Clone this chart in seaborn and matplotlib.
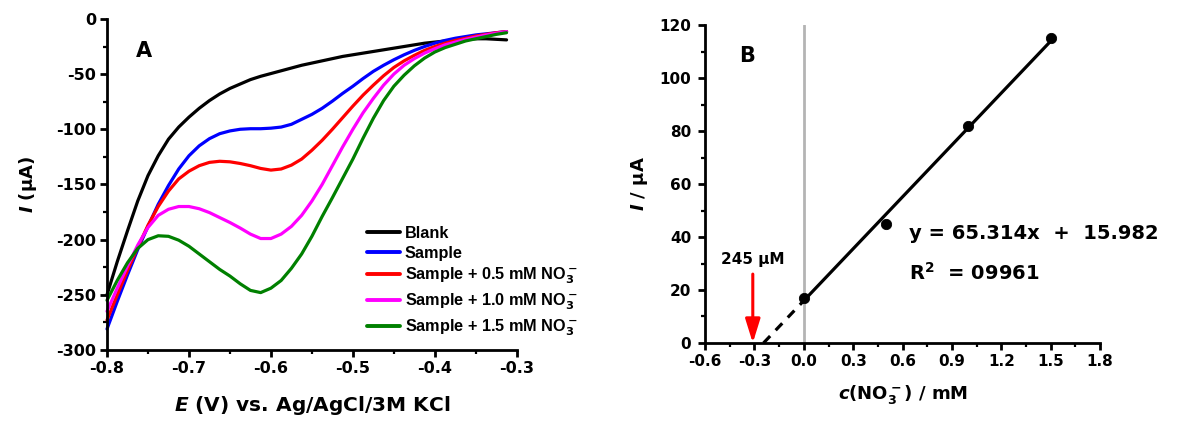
import numpy as np
import pandas as pd
import matplotlib
matplotlib.use('Agg')
import matplotlib.pyplot as plt
from matplotlib.ticker import MultipleLocator, FormatStrFormatter
import seaborn as sns

# ---------------- data ----------------
potential = [-0.8, -0.7875, -0.775, -0.7625, -0.75, -0.7375, -0.725, -0.7125,
             -0.7, -0.6875, -0.675, -0.6625, -0.65, -0.6375, -0.625, -0.6125,
             -0.6, -0.5875, -0.575, -0.5625, -0.55, -0.5375, -0.525, -0.5125,
             -0.5, -0.4875, -0.475, -0.4625, -0.45, -0.4375, -0.425, -0.4125,
             -0.4, -0.3875, -0.375, -0.3625, -0.35, -0.3375, -0.325, -0.3125]
blank = [-250, -220, -192, -165, -142, -124, -109, -98,
         -89, -81, -74, -68, -63, -59, -55, -52,
         -49.5, -47, -44.5, -42, -40, -38, -36, -34,
         -32.5, -31, -29.5, -28, -26.5, -25, -23.5, -22,
         -21, -20, -19, -18.5, -18, -18, -18.5, -19]
sample = [-281, -256, -232, -209, -188, -168, -151, -136,
          -124, -115, -108.5, -104, -101.5, -100, -99.5, -99.5,
          -99, -98, -95.5, -91, -86.5, -81, -74.5, -67.5,
          -61, -54, -47.5, -42, -37, -32.5, -28.5, -25,
          -22, -19.5, -17.5, -16, -14.5, -13.5, -12.5, -11.5]
sample_05 = [-273, -250, -228, -207, -187, -170, -156, -145,
             -138, -133, -130, -129, -129.5, -131, -133, -135.5,
             -137, -136, -132.5, -127, -119, -110, -100, -89.5,
             -79, -69, -60, -51.5, -44, -38, -33, -28.5,
             -25, -22, -19.5, -17.5, -15.5, -14, -12.5, -11.5]
sample_10 = [-265, -244, -224, -205, -189, -178, -172.5, -170,
             -170, -172, -175.5, -180, -184.5, -189.5, -195, -199,
             -199, -195, -188, -178, -165, -150, -133, -116,
             -100, -85, -72, -60, -50, -42, -36, -31,
             -27, -23.5, -21, -18.5, -16.5, -14.5, -13, -11.5]
sample_15 = [-255, -237, -221, -208, -200, -196.5, -197, -200.5,
             -206, -213, -220, -227, -233, -240, -246, -248,
             -244, -237, -226, -213, -197, -179, -162, -144.5,
             -127, -108, -90, -74, -61, -51, -42.5, -35.5,
             -30, -26, -23, -20, -18, -16, -14, -12.5]

trace_labels = ['Blank', 'Sample',
                r'Sample + 0.5 mM NO$_3^-$',
                r'Sample + 1.0 mM NO$_3^-$',
                r'Sample + 1.5 mM NO$_3^-$']
trace_colors = ['#000000', '#0000FF', '#FF0000', '#FF00FF', '#008000']

conc = [0.0, 0.5, 1.0, 1.5]
current = [17, 45, 82, 115]
fit_slope = 65.314
fit_intercept = 15.982
eq_text = 'y = 65.314x  +  15.982'
r2_text = r'R$^2$  = 09961'
lod_text = '245 μM'
lod_x = -0.31

# ---------------- style ----------------
sns.set_style('ticks')
plt.rcParams.update({
    'font.family': ['DejaVu Sans'],
    'font.weight': 'bold',
    'axes.labelweight': 'bold',
    'axes.unicode_minus': False,
    'mathtext.fontset': 'custom',
    'mathtext.rm': 'DejaVu Sans:bold',
    'mathtext.it': 'DejaVu Sans:italic:bold',
    'mathtext.bf': 'DejaVu Sans:bold',
    'mathtext.default': 'rm',
    'text.color': 'black',
    'axes.labelcolor': 'black',
    'axes.linewidth': 2,
    'xtick.major.width': 2, 'ytick.major.width': 2,
    'xtick.minor.width': 1.6, 'ytick.minor.width': 1.6,
    'xtick.major.size': 5, 'ytick.major.size': 5,
    'xtick.minor.size': 3, 'ytick.minor.size': 3,
    'xtick.color': 'black', 'ytick.color': 'black',
    'xtick.labelcolor': 'black', 'ytick.labelcolor': 'black',
    'axes.edgecolor': 'black',
})

fig = plt.figure(figsize=(11.81, 4.25), dpi=100)
axA = fig.add_axes([0.0906, 0.1765, 0.347, 0.779])
axB = fig.add_axes([0.597, 0.193, 0.3345, 0.748])

# ---------------- panel A ----------------
series = [blank, sample, sample_05, sample_10, sample_15]
frames = []
for lab, vals in zip(trace_labels, series):
    frames.append(pd.DataFrame({'E': potential, 'I': vals, 'trace': lab}))
dfA = pd.concat(frames, ignore_index=True)
sns.lineplot(data=dfA, x='E', y='I', hue='trace', hue_order=trace_labels,
             palette=dict(zip(trace_labels, trace_colors)), ax=axA,
             linewidth=2.3, sort=False, estimator=None, legend=True)
for ln in axA.lines:
    ln.set_clip_on(False)
    ln.set_solid_capstyle('round')
    ln.set_solid_joinstyle('round')

axA.set_xlim(-0.8, -0.3)
axA.set_ylim(-300, 0)
axA.xaxis.set_major_locator(MultipleLocator(0.1))
axA.xaxis.set_minor_locator(MultipleLocator(0.05))
axA.yaxis.set_major_locator(MultipleLocator(50))
axA.yaxis.set_minor_locator(MultipleLocator(25))
axA.xaxis.set_major_formatter(FormatStrFormatter('%.1f'))
axA.tick_params(labelsize=11.5, pad=3)
axA.set_xlabel(r'$\mathit{E}$ (V) vs. Ag/AgCl/3M KCl', fontsize=14.5, labelpad=13)
axA.set_ylabel(r'$\mathit{I}$ (μA)', fontsize=13, labelpad=12)
sns.despine(ax=axA)
axA.text(0.07, 0.885, 'A', transform=axA.transAxes, fontsize=15, fontweight='bold')
handles, labels = axA.get_legend_handles_labels()
for h in handles:
    h.set_linewidth(2.8)
axA.legend(handles, labels, loc='upper left', bbox_to_anchor=(0.635, 0.376),
           frameon=False, handlelength=2.0, handletextpad=0.3,
           labelspacing=0.32, borderaxespad=0, borderpad=0,
           prop={'family': ['Liberation Sans', 'DejaVu Sans'], 'weight': 'bold', 'size': 11.7})

# ---------------- panel B ----------------
axB.axvline(0, color='#b4b4b4', linewidth=2, zorder=1)
x_int = -fit_intercept / fit_slope
fit_x = [0.0, max(conc)]
fit_y = [fit_intercept + fit_slope * v for v in fit_x]
ext_x = [x_int, 0.0]
ext_y = [fit_intercept + fit_slope * v for v in ext_x]
sns.lineplot(x=fit_x, y=fit_y, color='black', linewidth=2.3, ax=axB, zorder=2)
sns.lineplot(x=ext_x, y=ext_y, color='black', linewidth=2.3, ax=axB, zorder=2,
             linestyle=(0, (3, 2.5)))
sns.scatterplot(x=conc, y=current, color='black', s=55, ax=axB, zorder=3,
                edgecolor='black')
axB.annotate('', xy=(lod_x, 0), xytext=(lod_x, 26),
             arrowprops=dict(arrowstyle='-|>,head_length=0.9,head_width=0.28',
                             color='red', lw=2.2,
                             mutation_scale=16, shrinkA=0, shrinkB=0))
axB.text(lod_x, 28.5, lod_text, ha='center', va='bottom', fontsize=11)
axB.text(0.64, 41.5, eq_text, ha='left', va='center', fontsize=14)
axB.text(0.64, 26.5, r2_text, ha='left', va='center', fontsize=14)

axB.set_xlim(-0.6, 1.8)
axB.set_ylim(0, 120)
axB.xaxis.set_major_locator(MultipleLocator(0.3))
axB.xaxis.set_minor_locator(MultipleLocator(0.15))
axB.yaxis.set_major_locator(MultipleLocator(20))
axB.yaxis.set_minor_locator(MultipleLocator(10))
axB.xaxis.set_major_formatter(FormatStrFormatter('%.1f'))
axB.tick_params(axis='x', labelsize=11, pad=3)
axB.tick_params(axis='y', labelsize=11, pad=5)
axB.set_xlabel(r'$\mathit{c}$(NO$_3^-$) / mM', fontsize=13, labelpad=10)
axB.set_ylabel(r'$\mathit{I}$ / μA', fontsize=13, labelpad=7)
sns.despine(ax=axB)
axB.text(0.085, 0.885, 'B', transform=axB.transAxes, fontsize=15, fontweight='bold')

fig.savefig('out.png', dpi=100)
